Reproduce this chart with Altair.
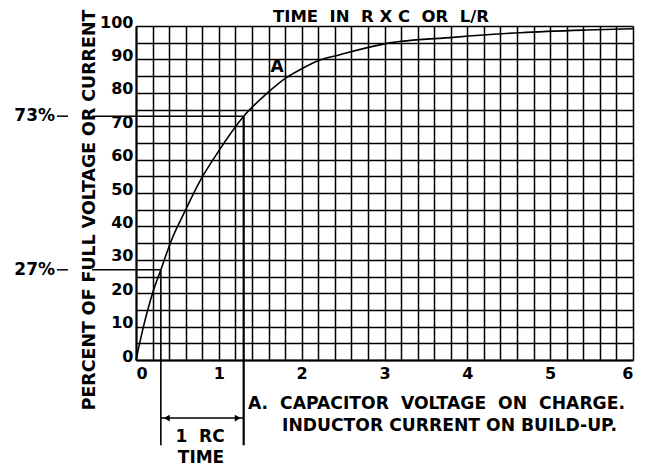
import altair as alt
import pandas as pd

# ---- data ----
time_rc = [0, 0.09, 0.2, 0.3, 0.43, 0.59, 0.77, 0.97, 1.3, 1.58, 1.82, 1.98, 2.22, 2.46, 3.03, 3.83, 4.64, 5.44, 6.0]
percent = [0, 10, 20, 27, 36, 44.5, 53.5, 61.5, 73, 79.8, 84.6, 86.9, 89.8, 91.4, 94.8, 96.6, 98.0, 98.8, 99.2]

x_grid = [round(i * 0.2, 1) for i in range(31)]
y_grid = [i * 5 for i in range(21)]

rc_start, rc_end = 0.3, 1.3
pct_low, pct_high = 27, 73

NB = "\u00a0"
title_top = f"TIME{NB} IN{NB} R X C{NB} OR{NB} L/R"
title_left = "PERCENT OF FULL VOLTAGE OR CURRENT"
caption_1 = f"A.{NB} CAPACITOR{NB} VOLTAGE{NB} ON{NB} CHARGE."
caption_2 = "INDUCTOR CURRENT ON BUILD-UP."
curve_label = "A"
rc_label_1 = f"1{NB} RC"
rc_label_2 = "TIME"
low_label = f"{pct_low}%"
high_label = f"{pct_high}%"

FONT = "DejaVu Sans"
W, H = 497, 334
xs = alt.Scale(domain=[0, 6], nice=False, zero=False)
ys = alt.Scale(domain=[0, 100], nice=False, zero=False)

curve_df = pd.DataFrame({"t": time_rc, "p": percent})

x_axis = alt.Axis(values=x_grid, grid=True, gridColor="black", gridWidth=1.5, gridOpacity=1,
                  domainColor="black", domainWidth=2, ticks=False, title=None,
                  labelExpr="abs(datum.value - round(datum.value)) < 0.01 ? format(datum.value, 'd') : ''",
                  labelFont=FONT, labelFontWeight="bold", labelFontSize=16, labelColor="black",
                  labelPadding=5, labelOverlap=False)
y_axis = alt.Axis(values=y_grid, grid=True, gridColor="black", gridWidth=1.5, gridOpacity=1,
                  domainColor="black", domainWidth=2, ticks=False, title=None,
                  labelExpr="datum.value % 10 == 0 ? format(datum.value, 'd') : ''",
                  labelFont=FONT, labelFontWeight="bold", labelFontSize=16, labelColor="black",
                  labelPadding=3, labelOffset=-4, labelOverlap=False)


def X(field):
    return alt.X(field, type="quantitative", scale=xs, axis=x_axis)


def Y(field):
    return alt.Y(field, type="quantitative", scale=ys, axis=y_axis)


curve = alt.Chart(curve_df).mark_line(color="black", strokeWidth=1.6, interpolate="monotone").encode(
    x=X("t"), y=Y("p"))

# horizontal reference lines (broken where the rotated title crosses)
h_df = pd.DataFrame({
    "x": [-0.954, -0.53, -0.954, -0.53],
    "x2": [-0.82, rc_end, -0.82, rc_start],
    "y": [pct_high, pct_high, pct_low, pct_low],
})
h_rules = alt.Chart(h_df).mark_rule(color="black", strokeWidth=1.5).encode(
    x=X("x"), x2="x2:Q", y=Y("y"))

v_df = pd.DataFrame({"x": [rc_start, rc_end], "y": [pct_low, pct_high], "y2": [-25.5, -25.5], "w": [1.6, 2.2]})
v_rules = alt.Chart(v_df).mark_rule(color="black").encode(
    x=X("x"), y=Y("y"), y2="y2:Q",
    strokeWidth=alt.StrokeWidth("w:Q", scale=None, legend=None))

dim_df = pd.DataFrame({"x": [rc_start], "x2": [rc_end], "y": [-17.4]})
dim_rule = alt.Chart(dim_df).mark_rule(color="black", strokeWidth=1.5).encode(
    x=X("x"), x2="x2:Q", y=Y("y"))
arrow_l = alt.Chart(dim_df).mark_point(shape="triangle-left", filled=True, color="black", size=45, opacity=1, xOffset=6).encode(
    x=X("x"), y=Y("y"))
arrow_r = alt.Chart(dim_df).mark_point(shape="triangle-right", filled=True, color="black", size=45, opacity=1, xOffset=-6).encode(
    x=X("x2"), y=Y("y"))


def label(text, px, py, size=16, align="center", angle=0):
    kw = dict(text=text, font=FONT, fontWeight="bold", fontSize=size, color="black",
              align=align, baseline="middle")
    if angle:
        kw["angle"] = angle
    return alt.Chart(alt.Data(values=[{}])).mark_text(**kw).encode(x=alt.value(px), y=alt.value(py))


texts = [
    label(title_top, 245, -9, size=16.5),
    label(title_left, -46, 184, size=17.4, angle=270),
    label(curve_label, 141, 41, size=17),
    label(high_label, -81, 90, size=17, align="right"),
    label(low_label, -81, 244, size=17, align="right"),
    label(rc_label_1, 64, 411, size=17),
    label(rc_label_2, 65, 432, size=17),
    label(caption_1, 112, 378, size=17.2, align="left"),
    label(caption_2, 146, 400, size=17.2, align="left"),
]

chart = alt.layer(curve, h_rules, v_rules, dim_rule, arrow_l, arrow_r, *texts).properties(
    width=W, height=H,
    autosize=alt.AutoSizeParams(type="none"),
    padding={"left": 128, "top": 18, "right": 4, "bottom": 108},
    background="white",
).configure_view(stroke=None)

chart.save("out.html", embed_options={"renderer": "svg", "actions": False})
